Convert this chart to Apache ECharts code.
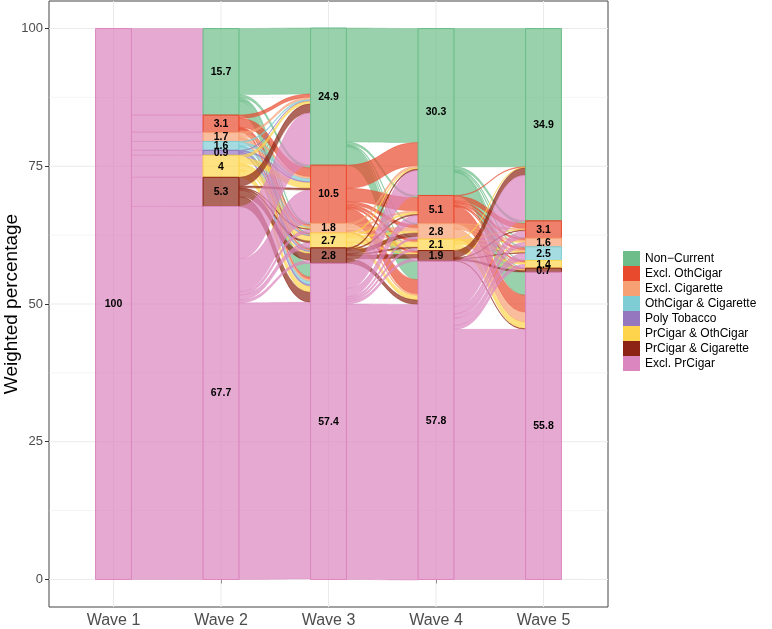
<!DOCTYPE html>
<html><head><meta charset="utf-8">
<script src="https://cdn.jsdelivr.net/npm/echarts@6/dist/echarts.min.js"></script>
<style>html,body{margin:0;padding:0;background:#fff}#c{width:772px;height:629px}</style>
</head><body><div id="c"></div>
<script>
// ---- data ----
const categories = ['Non\u2212Current','Excl. OthCigar','Excl. Cigarette','OthCigar & Cigarette','Poly Tobacco','PrCigar & OthCigar','PrCigar & Cigarette','Excl. PrCigar'];
const colors = ['#6CBD89','#E84A2D','#F6A074','#7ECDD4','#9477BF','#FDD44C','#8C2314','#DB86BF'];
const waves = ['Wave 1','Wave 2','Wave 3','Wave 4','Wave 5'];
const yTicks = [0,25,50,75,100];
const yMinor = [12.5,37.5,62.5,87.5];

const wave1 = [0,0,0,0,0,0,0,100];
const wave2 = [15.7,3.1,1.7,1.6,0.9,4,5.3,67.7];
const wave3 = [24.9,10.5,1.8,0,0,2.7,2.8,57.4];
const wave4 = [30.3,5.1,2.8,0,0,2.1,1.9,57.8];
const wave5 = [34.9,3.1,1.6,2.5,0,1.4,0.7,55.8];

// flows: rows = source category, cols = target category
const flow12 = [
  [0,0,0,0,0,0,0,0],[0,0,0,0,0,0,0,0],[0,0,0,0,0,0,0,0],[0,0,0,0,0,0,0,0],
  [0,0,0,0,0,0,0,0],[0,0,0,0,0,0,0,0],[0,0,0,0,0,0,0,0],
  [15.7,3.1,1.7,1.6,0.9,4,5.3,67.7]
];
const flow23 = [
  [12.0,0.5,0.3,0,0,0.2,0.2,2.5],
  [0.6,1.6,0.2,0,0,0.1,0.2,0.4],
  [0.4,0.4,0.3,0,0,0.1,0.1,0.4],
  [0.2,0.5,0.1,0,0,0.1,0.1,0.6],
  [0.1,0.2,0,0,0,0.1,0.2,0.3],
  [0.5,1.0,0.2,0,0,0.9,0.3,1.1],
  [1.6,0.3,0.1,0,0,0.3,1.2,1.8],
  [9.5,6.0,0.6,0,0,0.9,0.5,50.2]
];
const flow34 = [
  [20.7,0.4,0.2,0,0,0.1,0.1,3.4],
  [4.2,2.4,0.6,0,0,0.4,0.3,2.6],
  [0.4,0.3,0.6,0,0,0.1,0.1,0.3],
  [0,0,0,0,0,0,0,0],
  [0,0,0,0,0,0,0,0],
  [0.2,0.3,0.3,0,0,0.9,0.2,0.8],
  [0.2,0.2,0.7,0,0,0.2,0.7,0.8],
  [4.6,1.5,0.4,0,0,0.4,0.5,50.0]
];
const flow45 = [
  [25.1,0.5,0.1,0.2,0,0.1,0.1,4.2],
  [0.1,0.9,0.3,0.4,0,0.2,0.1,3.1],
  [0,0.2,0.3,0.3,0,0.1,0.1,1.8],
  [0,0,0,0,0,0,0,0],
  [0,0,0,0,0,0,0,0],
  [0.1,0.1,0.1,0.2,0,0.3,0.1,1.2],
  [1.3,0.1,0,0.1,0,0,0.3,0.1],
  [8.3,1.3,0.8,1.3,0,0.7,0,45.4]
];

// ---- layout helpers ----
const nodeSets = [wave1,wave2,wave3,wave4,wave5];
const flowSets = [flow12,flow23,flow34,flow45];
const HALF = 1/6;
const ALPHA = 0.7;
function rgba(hex,a){const n=parseInt(hex.slice(1),16);return 'rgba('+(n>>16&255)+','+(n>>8&255)+','+(n&255)+','+a+')';}
function tops(vals){const t=[];let s=0;for(let c=vals.length-1;c>=0;c--){s+=vals[c];t[c]=s;}return t;}
const nodeTops = nodeSets.map(tops);

const flowData = [];
flowSets.forEach((M,i)=>{
  const srcCur = nodeTops[i].slice(), tgtCur = nodeTops[i+1].slice();
  const tgtPos = {};
  for(let s=0;s<8;s++){for(let t=0;t<8;t++){const f=M[s][t];if(f>0){tgtPos[s+'_'+t]=[tgtCur[t],tgtCur[t]-f];tgtCur[t]-=f;}}}
  for(let s=0;s<8;s++){for(let t=0;t<8;t++){const f=M[s][t];if(f>0){
    const p=tgtPos[s+'_'+t];
    flowData.push([i+1+HALF,i+2-HALF,srcCur[s],srcCur[s]-f,p[0],p[1],s]);
    srcCur[s]-=f;}}}
});

const fontFam = '"Liberation Sans", Arial, Helvetica, sans-serif';

const gridData = [];
yTicks.forEach(v=>gridData.push([0,v,1]));
yMinor.forEach(v=>gridData.push([0,v,0.5]));
[1,2,3,4,5].forEach(v=>gridData.push([1,v,1]));

const series = [];
series.push({
  type:'custom', silent:true, z:1, data:gridData,
  renderItem:function(params,api){
    const kind=api.value(0), v=api.value(1), w=api.value(2);
    let a,b;
    if(kind===0){a=api.coord([0.4,v]);b=api.coord([5.6,v]);}
    else{a=api.coord([v,-5]);b=api.coord([v,105]);}
    return {type:'line',shape:{x1:a[0],y1:a[1],x2:b[0],y2:b[1]},style:{stroke:'#ebebeb',lineWidth:w}};
  }
});
series.push({
  type:'custom', silent:true, z:2, data:flowData,
  renderItem:function(params,api){
    const x0=api.value(0), x1=api.value(1);
    const a=api.coord([x0,api.value(2)]), b=api.coord([x0,api.value(3)]);
    const c=api.coord([x1,api.value(4)]), d=api.coord([x1,api.value(5)]);
    const ci=api.value(6);
    const mx=(a[0]+c[0])/2;
    const path='M'+a[0]+','+a[1]+' C'+mx+','+a[1]+' '+mx+','+c[1]+' '+c[0]+','+c[1]+
      ' L'+d[0]+','+d[1]+' C'+mx+','+d[1]+' '+mx+','+b[1]+' '+b[0]+','+b[1]+' Z';
    return {type:'path',shape:{pathData:path},style:{fill:rgba(colors[ci],ALPHA),stroke:rgba(colors[ci],0.85),lineWidth:0.5}};
  }
});
categories.forEach((name,ci)=>{
  const data = nodeSets.map((vals,w)=>[w+1,nodeTops[w][ci]-vals[ci],nodeTops[w][ci],vals[ci]]);
  series.push({
    name:name, type:'custom', z:3, data:data, itemStyle:{color:colors[ci]},
    renderItem:function(params,api){
      const val=api.value(3);
      if(!(val>0)) return null;
      const x=api.value(0);
      const p0=api.coord([x-HALF,api.value(2)]), p1=api.coord([x+HALF,api.value(1)]);
      const mid=api.coord([x,(api.value(1)+api.value(2))/2]);
      return {type:'group',children:[
        {type:'rect',shape:{x:p0[0],y:p0[1],width:p1[0]-p0[0],height:p1[1]-p0[1]},
         style:{fill:rgba(colors[ci],ALPHA),stroke:colors[ci],lineWidth:1}},
        {type:'text',z2:10,style:{text:String(val),x:mid[0],y:mid[1]+0.5,align:'center',verticalAlign:'middle',
         fill:'#000',font:'bold 10.5px '+fontFam}}
      ]};
    }
  });
});

const chart = echarts.init(document.getElementById('c'));
chart.setOption({
  animation:false,
  backgroundColor:'#fff',
  grid:{left:49,right:164,top:1,bottom:22,show:true,borderColor:'#444',borderWidth:1,containLabel:false,outerBoundsMode:'none'},
  xAxis:{type:'value',min:0.4,max:5.6,splitLine:{show:false},axisLine:{show:false},
    axisTick:{show:true,customValues:[1,2,3,4,5],length:4,lineStyle:{color:'#333'}},
    axisLabel:{customValues:[1,2,3,4,5],formatter:v=>waves[Math.round(v)-1],fontSize:16,color:'#4d4d4d',margin:6,fontFamily:fontFam}},
  yAxis:{type:'value',min:-5,max:105,splitLine:{show:false},axisLine:{show:false},
    axisTick:{show:true,customValues:yTicks,length:4,lineStyle:{color:'#333'}},
    axisLabel:{customValues:yTicks,fontSize:13,color:'#4d4d4d',margin:6,fontFamily:fontFam},
    name:'Weighted percentage',nameLocation:'middle',nameRotate:90,nameGap:28,nameMoveOverlap:false,
    nameTextStyle:{fontSize:19,color:'#000',fontFamily:fontFam}},
  legend:{orient:'vertical',left:623,top:251,padding:0,itemWidth:17,itemHeight:15,itemGap:0,icon:'rect',
    data:categories,selectedMode:false,textStyle:{fontSize:12,color:'#000',fontFamily:fontFam},itemStyle:{borderWidth:0}},
  series:series
});
</script></body></html>
